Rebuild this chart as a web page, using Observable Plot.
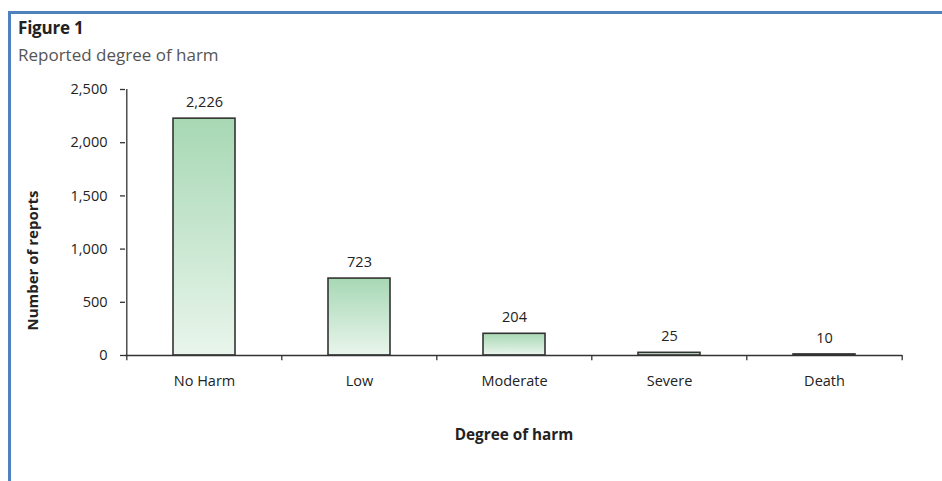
<!DOCTYPE html>
<html>
<head>
<meta charset="utf-8">
<script src="https://cdn.jsdelivr.net/npm/d3@7"></script>
<script src="https://cdn.jsdelivr.net/npm/@observablehq/plot@0.6"></script>
<style>
  html, body { margin: 0; padding: 0; background: #fff; width: 942px; height: 481px; overflow: hidden; font-family: "Open Sans", sans-serif; }
  #frame { position: absolute; left: 8px; top: 11px; right: -10px; bottom: -10px; border-top: 3px solid #4f81bd; border-left: 3px solid #4f81bd; }
  #title { position: absolute; left: 18px; top: 18px; font-size: 17px; font-weight: 700; color: #222; line-height: 20px; letter-spacing: -0.2px; }
  #subtitle { position: absolute; left: 18px; top: 45px; font-size: 17px; color: #555; line-height: 20px; }
  #chart { position: absolute; left: 0; top: 70px; }
</style>
</head>
<body>
<div id="frame"></div>
<div id="title">Figure 1</div>
<div id="subtitle">Reported degree of harm</div>
<div id="chart"></div>
<script>
const categories = ["No Harm", "Low", "Moderate", "Severe", "Death"];
const reports = [2226, 723, 204, 25, 10];
const yTicks = [0, 500, 1000, 1500, 2000, 2500];

const data = categories.map((c, i) => ({category: c, value: reports[i]}));

const width = 942, height = 411;
const marginLeft = 125, marginRight = 40, marginTop = 19, marginBottom = 126;
const innerWidth = width - marginLeft - marginRight;
const step = innerWidth / categories.length;

const defs = () => {
  const d = d3.create("svg:defs");
  const g = d.append("linearGradient").attr("id", "barGrad").attr("x1", 0).attr("y1", 0).attr("x2", 0).attr("y2", 1);
  g.append("stop").attr("offset", "0%").attr("stop-color", "#a7d8b4");
  g.append("stop").attr("offset", "100%").attr("stop-color", "#e9f5ec");
  return d.node();
};

const plot = Plot.plot({
  width, height, marginLeft, marginRight, marginTop, marginBottom,
  style: {fontFamily: "'Open Sans', sans-serif", fontSize: "14.5px", color: "#222", background: "transparent"},
  x: {domain: categories, paddingInner: 0.6, paddingOuter: 0.3, label: null},
  y: {domain: [0, 2500], ticks: yTicks, label: null},
  marks: [
    defs,
    Plot.barY(data, {x: "category", y: "value", fill: "url(#barGrad)", stroke: "#333", strokeWidth: 1.6}),
    Plot.ruleY([0], {stroke: "#333", strokeWidth: 1.3}),
    Plot.ruleX(categories, {x: d => d, y1: 0, y2: -50, dx: -step / 2, stroke: "#333", strokeWidth: 1.3}),
    Plot.ruleX([categories[categories.length - 1]], {x: d => d, y1: 0, y2: -50, dx: step / 2, stroke: "#333", strokeWidth: 1.3}),
    Plot.ruleX([categories[0]], {x: d => d, y1: 0, y2: 2500, dx: -step / 2, stroke: "#333", strokeWidth: 1.3}),
    Plot.axisY({ticks: yTicks, tickFormat: d3.format(","), tickSize: 5, tickPadding: 13, stroke: "#333", strokeWidth: 1.3, label: null, fontSize: 14.5, fill: "#222"}),
    Plot.axisX({tickSize: 0, tickPadding: 20, label: null, fontSize: 14.5, fill: "#222"}),
    Plot.text(data, {x: "category", y: "value", text: d => d3.format(",")(d.value), dy: -16, fontSize: 14.5, fill: "#222"}),
    Plot.text(["Degree of harm"], {frameAnchor: "bottom", dy: 84, fontWeight: "bold", fontSize: 15.3, fill: "#222"}),
    Plot.text(["Number of reports"], {frameAnchor: "left", textAnchor: "middle", rotate: -90, dx: -92, dy: 38, fontWeight: "bold", fontSize: 15, fill: "#222"})
  ]
});
document.getElementById("chart").appendChild(plot);
</script>
</body>
</html>
